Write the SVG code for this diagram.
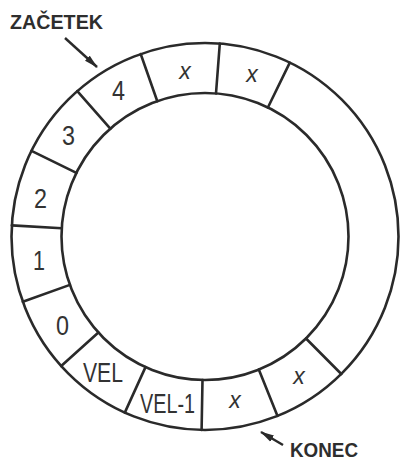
<svg xmlns="http://www.w3.org/2000/svg" width="400" height="460" viewBox="0 0 400 460">
<defs>
<style>
.ring{fill:none;stroke:#2a2a2a;stroke-width:2.6}
.div{stroke:#2a2a2a;stroke-width:2.6;stroke-linecap:round}
.lbl{font-family:"Liberation Sans",Arial,sans-serif;font-size:27px;fill:#333}
.x{font-family:"Liberation Sans",Arial,sans-serif;font-size:23px;font-style:italic;fill:#333;text-anchor:middle}
.cap{font-family:"Liberation Sans",Arial,sans-serif;font-size:21px;font-weight:bold;fill:#2e2e2e}
.arr{stroke:#2a2a2a;stroke-width:2.4;fill:none}
</style>
<marker id="ah" viewBox="0 0 14 8" refX="13" refY="4" markerWidth="14" markerHeight="8" markerUnits="userSpaceOnUse" orient="auto">
<path d="M0,0.5 L14,4 L0,7.5 Z" fill="#2a2a2a"/>
</marker>
</defs>
<rect width="400" height="460" fill="#fff"/>
<g id="ring">
<circle class="ring" cx="205" cy="236.5" r="193.5"/>
<circle class="ring" cx="205" cy="236.5" r="143.5"/>
</g>
<g id="connectors">
<line class="div" x1="289.8" y1="62.6" x2="267.9" y2="107.5"/>
<line class="div" x1="219.8" y1="43.6" x2="216.0" y2="93.4"/>
<line class="div" x1="140.7" y1="54.0" x2="157.3" y2="101.2"/>
<line class="div" x1="77.3" y1="91.1" x2="110.3" y2="128.7"/>
<line class="div" x1="31.5" y1="150.8" x2="76.4" y2="172.9"/>
<line class="div" x1="11.8" y1="225.4" x2="61.7" y2="228.2"/>
<line class="div" x1="22.8" y1="301.7" x2="69.9" y2="284.9"/>
<line class="div" x1="61.2" y1="366.0" x2="98.4" y2="332.5"/>
<line class="div" x1="124.8" y1="412.6" x2="145.5" y2="367.1"/>
<line class="div" x1="201.6" y1="430" x2="202.5" y2="380"/>
<line class="div" x1="277.5" y1="415.9" x2="258.8" y2="369.5"/>
<line class="div" x1="341.3" y1="374.0" x2="306.0" y2="338.5"/>
<line class="arr" x1="65" y1="38" x2="97" y2="67" marker-end="url(#ah)"/>
<line class="arr" x1="283" y1="445" x2="261" y2="432" marker-end="url(#ah)"/>
</g>
<g id="cell-4"><text class="lbl" x="112" y="100" textLength="13" lengthAdjust="spacingAndGlyphs">4</text></g>
<g id="cell-3"><text class="lbl" x="62" y="145" textLength="13" lengthAdjust="spacingAndGlyphs">3</text></g>
<g id="cell-2"><text class="lbl" x="34" y="208" textLength="13" lengthAdjust="spacingAndGlyphs">2</text></g>
<g id="cell-1"><text class="lbl" x="33" y="270" textLength="12" lengthAdjust="spacingAndGlyphs">1</text></g>
<g id="cell-0"><text class="lbl" x="56" y="335" textLength="13" lengthAdjust="spacingAndGlyphs">0</text></g>
<g id="cell-vel"><text class="lbl" x="83" y="382" textLength="40" lengthAdjust="spacingAndGlyphs">VEL</text></g>
<g id="cell-vel-1"><text class="lbl" x="140" y="413" textLength="55" lengthAdjust="spacingAndGlyphs">VEL-1</text></g>
<g id="cell-x1"><text class="x" x="185" y="79">x</text></g>
<g id="cell-x2"><text class="x" x="252" y="82">x</text></g>
<g id="cell-x3"><text class="x" x="235" y="408">x</text></g>
<g id="cell-x4"><text class="x" x="299" y="384">x</text></g>
<g id="label-zacetek"><text class="cap" x="10" y="29" textLength="93" lengthAdjust="spacingAndGlyphs">ZAČETEK</text></g>
<g id="label-konec"><text class="cap" x="290" y="457" textLength="68" lengthAdjust="spacingAndGlyphs">KONEC</text></g>
</svg>
